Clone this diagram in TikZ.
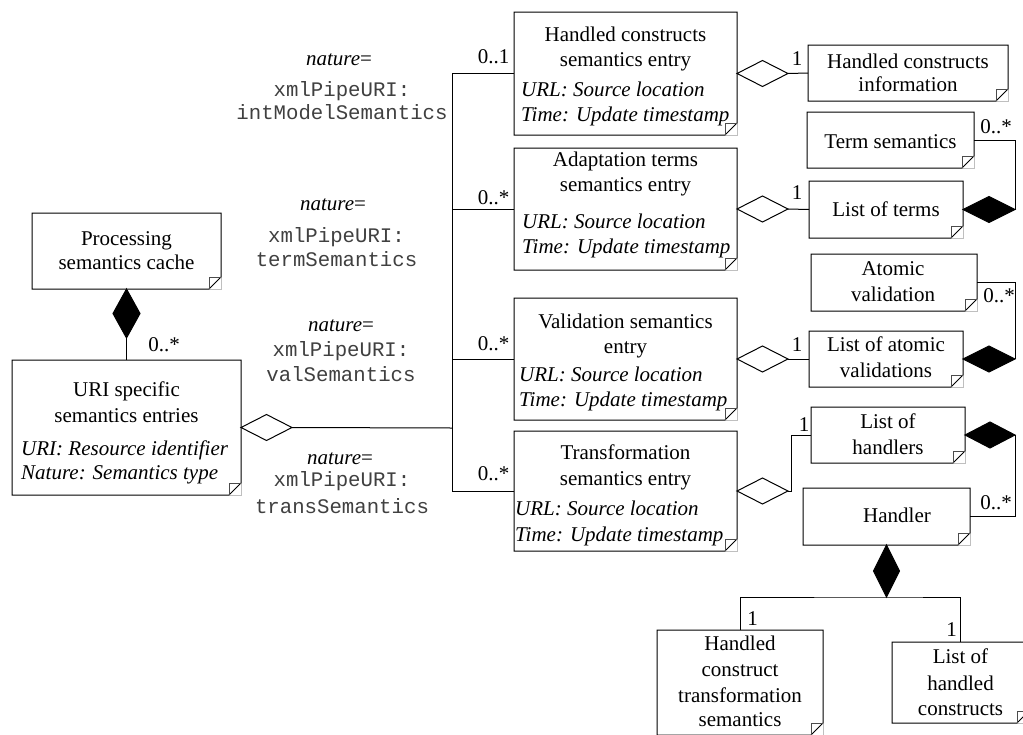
\documentclass[tikz,border=0pt]{standalone}
\usepackage{fontspec}
\setmainfont{Liberation Serif}
\setmonofont{Liberation Mono}
\usetikzlibrary{shapes.geometric}
\begin{document}
\begin{tikzpicture}[x=1pt,y=-1pt,
  box/.style={draw=none,inner sep=0pt,outer sep=0pt,rectangle},
  outline/.style={draw=black,line width=1pt,line join=miter},
  flap/.style={draw=black!70,line width=0.6pt},
  corner/.style={draw=black!25,line width=0.6pt},
  conn/.style={draw=black,line width=1pt},
  agg/.style={shape=diamond,draw=black,fill=white,line width=1pt,inner sep=0pt,outer sep=0pt,minimum width=51pt,minimum height=26pt},
  comp/.style={shape=diamond,draw=black,fill=black,line width=1pt,inner sep=0pt,outer sep=0pt},
  txt/.style={inner sep=0pt,anchor=base,font=\fontsize{21}{25}\selectfont},
  attr/.style={inner sep=0pt,anchor=base west,font=\fontsize{21}{25}\selectfont\itshape},
  mono/.style={inner sep=0pt,anchor=base,text=black!75,font=\fontsize{20.7}{25}\selectfont\ttfamily},
  mult/.style={inner sep=0pt,anchor=base,font=\fontsize{21}{25}\selectfont},
]
\useasboundingbox (0,0) rectangle (1023,734);
\clip (0,0) rectangle (1023,734);
\fill[white] (0,0) rectangle (1023,734);

% boxes
\node[box,minimum width=189pt,minimum height=76pt] (psc) at (126.5,251) {};
\node[box,minimum width=229pt,minimum height=135pt] (uri) at (126.5,427.5) {};
\node[box,minimum width=223pt,minimum height=123pt] (hc) at (625.5,73.5) {};
\node[box,minimum width=223pt,minimum height=122pt] (at) at (625.5,209) {};
\node[box,minimum width=223pt,minimum height=122pt] (vs) at (625.5,359) {};
\node[box,minimum width=223pt,minimum height=120pt] (ts) at (625.5,491) {};
\node[box,minimum width=200pt,minimum height=56pt] (hci) at (908,73) {};
\node[box,minimum width=167pt,minimum height=56pt] (tsem) at (890.5,140) {};
\node[box,minimum width=154pt,minimum height=57pt] (lot) at (886,209.5) {};
\node[box,minimum width=166pt,minimum height=57pt] (av) at (894,282.5) {};
\node[box,minimum width=154pt,minimum height=56pt] (lav) at (886,359) {};
\node[box,minimum width=154pt,minimum height=56pt] (loh) at (888,435) {};
\node[box,minimum width=167pt,minimum height=57pt] (han) at (886.5,516.5) {};
\node[box,minimum width=166pt,minimum height=105pt] (hcts) at (740,682.5) {};
\node[box,minimum width=137pt,minimum height=81pt] (lhc) at (960.5,682.5) {};

\foreach \n in {psc,uri,hc,at,vs,ts,hci,tsem,lot,av,lav,loh,han,hcts,lhc}{
  \fill[white] (\n.north west) rectangle (\n.south east);
  \draw[corner] ([yshift=12pt]\n.south east) -- (\n.south east) -- ([xshift=-12pt]\n.south east);
  \draw[outline] (\n.north west) -- (\n.north east) -- ([yshift=12pt]\n.south east) -- ([xshift=-12pt]\n.south east) -- (\n.south west) -- cycle;
  \draw[flap] ([xshift=-12pt]\n.south east) -- ([xshift=-12pt,yshift=12pt]\n.south east) -- ([yshift=12pt]\n.south east);
}

% box texts
\node[txt] (psc1) at (126.5,245) {Processing};
\node[txt] (psc2) at (126.5,269.3) {semantics cache};

\node[txt] (uri1) at (126.5,396.7) {URI specific};
\node[txt] (uri2) at (126.5,422.7) {semantics entries};
\node[attr] (uri3) at (21,455) {URI: Resource identifier};
\node[attr] (uri4) at (21,479.3) {Nature: Semantics type};

\node[txt] (hc1) at (625.5,41.5) {Handled constructs};
\node[txt] (hc2) at (625.5,66.7) {semantics entry};
\node[attr] (hc3) at (521,96.7) {URL: Source location};
\node[attr] (hc4) at (521,121.7) {Time: Update timestamp};

\node[txt] (at1) at (625.5,166.7) {Adaptation terms};
\node[txt] (at2) at (625.5,191.7) {semantics entry};
\node[attr] (at3) at (522,228.3) {URL: Source location};
\node[attr] (at4) at (522,253.3) {Time: Update timestamp};

\node[txt] (vs1) at (625.5,328.3) {Validation semantics};
\node[txt] (vs2) at (625.5,353.3) {entry};
\node[attr] (vs3) at (519,381.7) {URL: Source location};
\node[attr] (vs4) at (519,406.7) {Time: Update timestamp};

\node[txt] (ts1) at (625.5,459.7) {Transformation};
\node[txt] (ts2) at (625.5,485.3) {semantics entry};
\node[attr] (ts3) at (515,515.3) {URL: Source location};
\node[attr] (ts4) at (515,541.2) {Time: Update timestamp};

\node[txt] (hci1) at (908,68.3) {Handled constructs};
\node[txt] (hci2) at (908,91) {information};
\node[txt] (tsem1) at (890.5,148.3) {Term semantics};
\node[txt] (lot1) at (886,216.7) {List of terms};
\node[txt] (av1) at (893,275.7) {Atomic};
\node[txt] (av2) at (893,301.7) {validation};
\node[txt] (lav1) at (886,351.7) {List of atomic};
\node[txt] (lav2) at (886,377.3) {validations};
\node[txt] (loh1) at (888,428.3) {List of};
\node[txt] (loh2) at (888,454) {handlers};
\node[txt] (han1) at (897,522.3) {Handler};
\node[txt] (hcts1) at (740,650.7) {Handled};
\node[txt] (hcts2) at (740,676.7) {construct};
\node[txt] (hcts3) at (740,702.3) {transformation};
\node[txt] (hcts4) at (740,726.7) {semantics};
\node[txt] (lhc1) at (960.5,663.3) {List of};
\node[txt] (lhc2) at (960.5,690) {handled};
\node[txt] (lhc3) at (960.5,715) {constructs};

% nature labels
\node[txt] (n1a) at (339,65) {\textit{nature}=};
\node[mono] (n1b) at (342,96.7) {xmlPipeURI:};
\node[mono] (n1c) at (342,119.3) {intModelSemantics};
\node[txt] (n2a) at (333,210) {\textit{nature}=};
\node[mono] (n2b) at (336.5,242.3) {xmlPipeURI:};
\node[mono] (n2c) at (336.5,266.7) {termSemantics};
\node[txt] (n3a) at (341,331.7) {\textit{nature}=};
\node[mono] (n3b) at (341,356.7) {xmlPipeURI:};
\node[mono] (n3c) at (341,381.7) {valSemantics};
\node[txt] (n4a) at (340,464) {\textit{nature}=};
\node[mono] (n4b) at (342,486.7) {xmlPipeURI:};
\node[mono] (n4c) at (342,513.3) {transSemantics};

% connectors
\node[comp,minimum width=27pt,minimum height=49pt,anchor=north] (d1) at (psc.south) {};
\draw[conn] (d1.south) -- (uri.north);

\node[agg,minimum width=51pt,minimum height=26pt,anchor=west] (d2) at (uri.east) {};
\coordinate (tk) at (452,428);
\draw[conn] (d2.east) -- (tk);
\draw[conn] (hc.west) -- (hc.west -| tk) -- (ts.west -| tk) -- (ts.west);
\draw[conn] (at.west) -- (at.west -| tk);
\draw[conn] (vs.west) -- (vs.west -| tk);

\node[agg,anchor=west] (d3) at (hc.east) {};
\draw[conn] (d3.east) -- (hci.west);
\node[agg,anchor=west] (d4) at (at.east) {};
\draw[conn] (d4.east) -- (lot.west);
\node[agg,anchor=west] (d5) at (vs.east) {};
\draw[conn] (d5.east) -- (lav.west);
\node[agg,anchor=west] (d6) at (ts.east) {};
\coordinate (bend) at (791,491);
\draw[conn] (d6.east) -- (bend) |- (loh.west);

\node[comp,minimum width=52pt,minimum height=26pt,anchor=west] (d7) at (lot.east) {};
\draw[conn] (d7.east) |- (tsem.east);
\node[comp,minimum width=52pt,minimum height=26pt,anchor=west] (d8) at (lav.east) {};
\draw[conn] (d8.east) |- (av.east);
\node[comp,minimum width=50pt,minimum height=26pt,anchor=west] (d9) at (loh.east) {};
\draw[conn] (d9.east) |- (han.east);
\node[comp,minimum width=26pt,minimum height=52pt,anchor=north] (d10) at (han.south) {};
\draw[conn] (hcts.north) |- (d10.south) -| (lhc.north);

% multiplicities
\node[mult] (m1) at (164,351.7) {0..*};
\node[mult] (m2) at (493.5,63.3) {0..1};
\node[mult] (m3) at (493.5,204) {0..*};
\node[mult] (m4) at (493.5,350) {0..*};
\node[mult] (m5) at (493.5,480) {0..*};
\node[mult] (m6) at (797,65) {1};
\node[mult] (m7) at (797,199.3) {1};
\node[mult] (m8) at (797,351.7) {1};
\node[mult] (m9) at (804,431.7) {1};
\node[mult] (m10) at (996,133.3) {0..*};
\node[mult] (m11) at (999,302.3) {0..*};
\node[mult] (m12) at (996,509.3) {0..*};
\node[mult] (m13) at (752.5,625.7) {1};
\node[mult] (m14) at (951.5,636) {1};
\end{tikzpicture}
\end{document}
